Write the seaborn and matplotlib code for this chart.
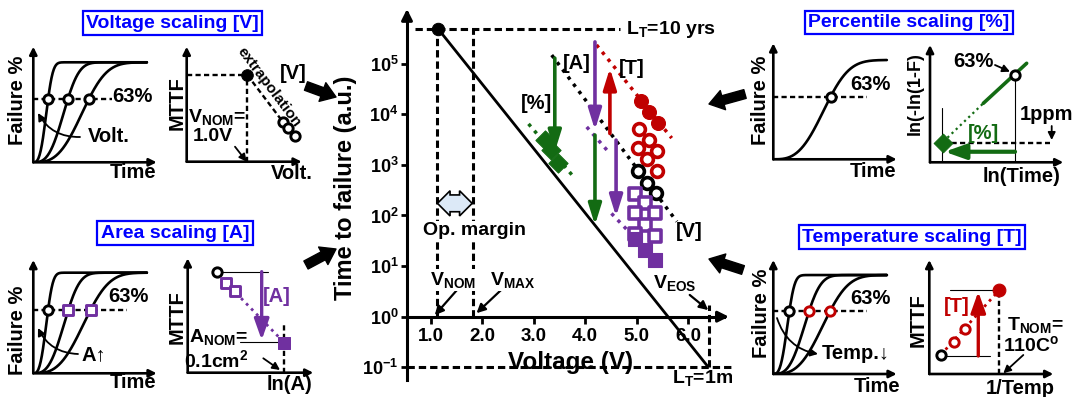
import numpy as np
import matplotlib.pyplot as plt
from matplotlib.ticker import NullLocator
from matplotlib.patches import FancyArrowPatch
import seaborn as sns

W, H = 1078, 397

# ---- main chart: voltage (V) vs time to failure, stored as log10(a.u.)
v_life = [1.15, 6.37]
t_life = [5.68, -0.97]
v_black = [5.03, 5.21, 5.37]
t_black = [2.87, 2.65, 2.44]
v_red_fill = [5.08, 5.24, 5.42]
t_red_fill = [4.27, 4.05, 3.83]
v_red_open = [5.05, 5.24, 5.03, 5.39, 5.21, 5.40]
t_red_open = [3.70, 3.49, 3.33, 3.28, 3.11, 2.87]
v_purple_open = [4.97, 5.16, 4.97, 5.36, 5.16, 4.97, 5.36]
t_purple_open = [2.42, 2.24, 2.04, 2.04, 1.81, 1.63, 1.59]
v_purple_fill = [4.97, 5.16, 5.36]
t_purple_fill = [1.53, 1.32, 1.12]
v_green = [3.22, 3.33, 3.48]
t_green = [3.49, 3.29, 3.04]

fit_green = ([2.90, 3.77], [3.81, 2.77])
fit_black = ([3.35, 5.78], [5.17, 1.88])
fit_red = ([4.22, 5.68], [5.37, 3.53])
fit_purple = [([4.03, 4.45], [3.75, 3.26]), ([4.51, 4.97], [2.04, 1.55])]

# arrows: (voltage, log10 start, log10 end)
arrows_green = [(3.41, 5.11, 3.26), (4.19, 3.59, 1.81)]
arrows_purple = [(4.19, 5.43, 3.69), (4.60, 3.49, 1.98)]
arrows_red = [(4.48, 3.62, 4.91)]

v_nom, v_max, v_eos = 1.12, 1.82, 6.40
lt_10yrs, lt_1ms = 5.68, -1.0
y_ticks = [-1, 0, 1, 2, 3, 4, 5]
x_ticks = [1, 2, 3, 4, 5, 6]

# ---- side panels (schematic, axes normalised 0..1)
eta_volt = [0.12, 0.28, 0.45]      # Weibull scale of the three CDFs
eta_area = [0.12, 0.284, 0.465]
eta_temp = [0.13, 0.289, 0.459]
eta_pct = [0.465]
beta = 3.0

mttf_volt_dot = (0.527, 0.754)
mttf_volt_x = [0.835, 0.883, 0.942]
mttf_volt_y = [0.348, 0.290, 0.223]

area_circle = (0.236, 0.883)
area_sq_x = [0.305, 0.377]
area_sq_y = [0.787, 0.717]
area_nom = (0.769, 0.262)

pct_solid = ([0.40, 0.725], [0.503, 0.844])
pct_dotted = ([0.10, 0.40], [0.176, 0.503])
pct_circle = (0.638, 0.744)
pct_diamond = (0.10, 0.167)

temp_circle = (0.092, 0.167)
temp_open_x = [0.199, 0.288]
temp_open_y = [0.283, 0.392]
temp_nom = (0.565, 0.737)

GREEN = '#136b13'
RED = '#c00000'
PURPLE = '#7030a0'
BLUE = '#0000ff'

sns.set_style('white')
plt.rcParams.update({
    'font.family': ['Liberation Sans', 'DejaVu Sans'],
    'font.weight': 'bold',
    'axes.labelweight': 'bold',
    'text.color': 'black',
    'axes.labelcolor': 'black',
    'xtick.color': 'black',
    'ytick.color': 'black',
    'axes.edgecolor': 'black',
    'mathtext.fontset': 'custom',
    'mathtext.rm': 'Liberation Sans:bold',
    'mathtext.it': 'Liberation Sans:bold:italic',
    'mathtext.bf': 'Liberation Sans:bold',
})


def px_box(left, top, right, bottom):
    return [left / W, 1 - bottom / H, (right - left) / W, (bottom - top) / H]


fig = plt.figure(figsize=(W / 100, H / 100), dpi=100)

# ================= main chart =================
ax = fig.add_axes(px_box(407, 8, 732, 392))
ax.patch.set_alpha(0)
ax.set_yscale('log')
ax.set_xlim(0.540, 6.851)
ax.set_ylim(10 ** -1.488, 10 ** 6.10)
for s in ['top', 'right']:
    ax.spines[s].set_visible(False)
ax.spines['bottom'].set_position(('data', 1))
ax.spines['left'].set_bounds(10 ** -1.25, 10 ** 6.0)
ax.spines['bottom'].set_bounds(0.54, 6.7)
for s in ['left', 'bottom']:
    ax.spines[s].set_linewidth(2.2)
ax.annotate('', xy=(0.54, 10 ** 6.08), xytext=(0.54, 10 ** 5.9),
            arrowprops=dict(arrowstyle='-|>', color='k', lw=2.2, mutation_scale=16,
                            shrinkA=0, shrinkB=0), annotation_clip=False)
ax.annotate('', xy=(6.79, 1), xytext=(6.6, 1),
            arrowprops=dict(arrowstyle='-|>', color='k', lw=2.2, mutation_scale=16,
                            shrinkA=0, shrinkB=0), annotation_clip=False)

ax.set_yticks([10.0 ** k for k in y_ticks])
ax.set_yticklabels([r'$10^{%d}$' % k for k in y_ticks])
ax.yaxis.set_minor_locator(NullLocator())
ax.set_xticks(x_ticks)
ax.set_xticklabels(['%.1f' % v for v in x_ticks])
ax.tick_params(axis='y', left=True, length=4, width=2, labelsize=13, pad=2)
ax.tick_params(axis='x', bottom=True, length=5, width=2, labelsize=13.5, pad=3)
ax.set_ylabel('Time to failure (a.u.)', fontsize=17)
ax.yaxis.set_label_coords(-0.154, 0.532)
ax.set_xlabel('Voltage (V)', fontsize=17.5)
ax.xaxis.set_label_coords(0.502, 0.0775)
ax.xaxis.label.set_va('center')

dash = (0, (2.4, 1.3))
ax.plot([0.69, 4.68], [10 ** lt_10yrs] * 2, color='k', lw=2.2, ls=dash)
ax.plot([0.54, 6.85], [10 ** lt_1ms] * 2, color='k', lw=2.2, ls=dash)
ax.plot([v_nom, v_nom], [1, 10 ** lt_10yrs], color='k', lw=2.2, ls=dash)
ax.plot([v_max, v_max], [1, 10 ** lt_10yrs], color='k', lw=2.2, ls=dash)
ax.plot([v_eos, v_eos], [10 ** lt_1ms, 10 ** 0.23], color='k', lw=2.2, ls=dash)

sns.lineplot(x=v_life, y=10 ** np.array(t_life), color='k', lw=2, ax=ax,
             estimator=None, sort=False)
sns.scatterplot(x=[v_life[0]], y=[10 ** t_life[0]], color='k', s=80, ax=ax, zorder=5,
                edgecolor='k')

dot = (0, (1, 1.6))
ax.plot(fit_green[0], 10 ** np.array(fit_green[1]), color=GREEN, lw=2.5, ls=dot)
ax.plot(fit_black[0], 10 ** np.array(fit_black[1]), color='k', lw=2.5, ls=dot)
ax.plot(fit_red[0], 10 ** np.array(fit_red[1]), color=RED, lw=2.5, ls=dot)
for fx, fy in fit_purple:
    ax.plot(fx, 10 ** np.array(fy), color=PURPLE, lw=2.5, ls=dot)

sns.scatterplot(x=v_green, y=10 ** np.array(t_green), marker='D', s=95, color=GREEN,
                edgecolor=GREEN, ax=ax, zorder=5)
sns.scatterplot(x=v_red_fill, y=10 ** np.array(t_red_fill), marker='o', s=100, color=RED,
                edgecolor=RED, ax=ax, zorder=5)
sns.scatterplot(x=v_red_open, y=10 ** np.array(t_red_open), marker='o', s=72, color='white',
                edgecolor=RED, linewidth=2.6, ax=ax, zorder=5)
sns.scatterplot(x=v_black, y=10 ** np.array(t_black), marker='o', s=72, color='white',
                edgecolor='k', linewidth=2.6, ax=ax, zorder=5)
sns.scatterplot(x=v_purple_open, y=10 ** np.array(t_purple_open), marker='s', s=66,
                color='white', edgecolor=PURPLE, linewidth=2.6, ax=ax, zorder=5)
sns.scatterplot(x=v_purple_fill, y=10 ** np.array(t_purple_fill), marker='s', s=95,
                color=PURPLE, edgecolor=PURPLE, ax=ax, zorder=5)

for arrs, col in [(arrows_green, GREEN), (arrows_purple, PURPLE), (arrows_red, RED)]:
    for x, a, b in arrs:
        ax.annotate('', xy=(x, 10 ** b), xytext=(x, 10 ** a),
                    arrowprops=dict(arrowstyle='-|>,head_length=0.9,head_width=0.28',
                                    color=col, lw=2.6, mutation_scale=14,
                                    shrinkA=0, shrinkB=0))

ax.text(3.06, 10 ** 4.22, '[%]', fontsize=14.5, ha='center', va='center')
ax.text(3.83, 10 ** 5.01, '[A]', fontsize=14.5, ha='center', va='center')
ax.text(4.90, 10 ** 4.91, '[T]', fontsize=14.5, ha='center', va='center')
ax.text(6.03, 10 ** 1.68, '[V]', fontsize=14.5, ha='center', va='center')
ax.text(4.80, 10 ** lt_10yrs, r'$\mathrm{L_T}$=10 yrs', fontsize=14, ha='left', va='center')
ax.text(5.68, 10 ** -1.22, r'$\mathrm{L_T}$=1ms', fontsize=14, ha='left', va='center',
        clip_on=True)
white = dict(boxstyle='square,pad=0.05', fc='white', ec='none')
ax.text(1.44, 10 ** 0.73, r'$\mathrm{V_{NOM}}$', fontsize=14, ha='center', va='center',
        bbox=white, zorder=4)
ax.text(2.60, 10 ** 0.73, r'$\mathrm{V_{MAX}}$', fontsize=14, ha='center', va='center',
        bbox=white, zorder=4)
ax.text(5.74, 10 ** 0.66, r'$\mathrm{V_{EOS}}$', fontsize=14, ha='center', va='center')
for (x0, y0), (x1, y1) in [((1.53, 0.55), (1.08, 0.03)), ((2.38, 0.54), (1.89, 0.07)),
                           ((6.03, 0.43), (6.39, 0.13))]:
    ax.annotate('', xy=(x1, 10 ** y1), xytext=(x0, 10 ** y0),
                arrowprops=dict(arrowstyle='-|>', color='k', lw=1.6, mutation_scale=13,
                                shrinkA=0, shrinkB=0))
# operating margin: hollow double arrow between V_NOM and V_MAX
ax.text((v_nom + v_max) / 2, 10 ** 2.24, 'xxx', fontsize=7, color='#dce9f7',
        ha='center', va='center', zorder=4,
        bbox=dict(boxstyle='darrow,pad=0.35', fc='#dce9f7', ec='k', lw=1.2))
ax.text(1.86, 10 ** 1.71, 'Op. margin', fontsize=14, ha='center', va='center',
        bbox=white, zorder=4)


# ================= side panels =================
def panel(ox, oy, tx, ty, ytop=1.0):
    a = fig.add_axes(px_box(ox, ty, tx, oy))
    a.patch.set_alpha(0)
    a.set_xlim(0, 1)
    a.set_ylim(0, ytop)
    a.axis('off')
    for end in [(1, 0), (0, ytop)]:
        a.annotate('', xy=end, xytext=(0, 0),
                   arrowprops=dict(arrowstyle='-|>', color='k', lw=1.9, mutation_scale=11,
                                   shrinkA=0, shrinkB=0), annotation_clip=False)
    return a


def cdf_panel(a, etas, colors, markers, xmax=0.92, dash_end=0.757):
    for eta in etas:
        t = np.linspace(0, xmax, 200)
        sns.lineplot(x=t, y=1 - np.exp(-(t / eta) ** beta), color='k', lw=1.9, ax=a,
                     estimator=None, sort=False)
    a.plot([0, dash_end], [0.632, 0.632], color='k', lw=1.7, ls=(0, (2.2, 1.4)))
    for eta, c, m in zip(etas, colors, markers):
        sns.scatterplot(x=[eta], y=[0.632], marker=m, s=45, color='white', edgecolor=c,
                        linewidth=2.1, ax=a, zorder=5, clip_on=False)


# voltage scaling
p = panel(33.3, 162.3, 156.7, 46.7, ytop=1.156)
cdf_panel(p, eta_volt, ['k'] * 3, ['o'] * 3, dash_end=0.635)
p = panel(186.7, 161.7, 301.7, 46.7)
p.plot([0, mttf_volt_dot[0]], [mttf_volt_dot[1]] * 2, color='k', lw=1.7, ls=(0, (2.2, 1.4)))
p.plot([mttf_volt_dot[0]] * 2, [0, mttf_volt_dot[1]], color='k', lw=1.7, ls=(0, (2.2, 1.4)))
p.plot([mttf_volt_dot[0], mttf_volt_x[0]], [mttf_volt_dot[1], mttf_volt_y[0]], color='k',
       lw=1.7, ls=(0, (2.2, 1.4)))
sns.scatterplot(x=[mttf_volt_dot[0]], y=[mttf_volt_dot[1]], color='k', s=70, ax=p, zorder=5,
                edgecolor='k')
sns.scatterplot(x=mttf_volt_x, y=mttf_volt_y, marker='o', s=45, color='white', edgecolor='k',
                linewidth=2.1, ax=p, zorder=5, clip_on=False)

# area scaling
p = panel(33.3, 373.3, 156.7, 260, ytop=1.126)
cdf_panel(p, eta_area, ['k', PURPLE, PURPLE], ['o', 's', 's'])
p = panel(187.7, 372.7, 313.3, 258.3)
p.plot([area_circle[0], 0.642], [area_circle[1]] * 2, color='k', lw=0.8)
p.plot([0.416, area_nom[0]], [0.271, 0.271], color='k', lw=0.8)
p.plot([area_sq_x[0], area_nom[0]], [area_sq_y[0], area_nom[1]], color=PURPLE, lw=2,
       ls=(0, (1, 1.6)))
p.plot([area_nom[0]] * 2, [0, 0.434], color='k', lw=1.7, ls=(0, (2.2, 1.4)))
p.annotate('', xy=(0.589, 0.286), xytext=(0.589, area_circle[1]),
           arrowprops=dict(arrowstyle='-|>,head_length=0.9,head_width=0.32', color=PURPLE,
                           lw=2.4, mutation_scale=14, shrinkA=0, shrinkB=0))
sns.scatterplot(x=[area_circle[0]], y=[area_circle[1]], marker='o', s=45, color='white',
                edgecolor='k', linewidth=2.1, ax=p, zorder=5)
sns.scatterplot(x=area_sq_x, y=area_sq_y, marker='s', s=45, color='white', edgecolor=PURPLE,
                linewidth=2.1, ax=p, zorder=5)
sns.scatterplot(x=[area_nom[0]], y=[area_nom[1]], marker='s', s=80, color=PURPLE,
                edgecolor=PURPLE, ax=p, zorder=5)

# percentile scaling
p = panel(773.3, 159.3, 896.7, 43.3, ytop=1.168)
cdf_panel(p, eta_pct, ['k'], ['o'])
p = panel(930, 162.3, 1063.3, 45)
p.plot([0.092, 0.092], [0, 0.46], color='k', lw=0.8)
p.plot([pct_circle[0]] * 2, [0, pct_circle[1]], color='k', lw=0.8)
p.plot([pct_diamond[0], 0.9], [pct_diamond[1]] * 2, color='k', lw=1.7, ls=(0, (2.2, 1.4)))
p.plot(pct_dotted[0], pct_dotted[1], color=GREEN, lw=1.6, ls=(0, (1, 1.6)))
p.plot(pct_solid[0], pct_solid[1], color=GREEN, lw=2.6)
p.annotate('', xy=(0.11, 0.09), xytext=(pct_circle[0], 0.09),
           arrowprops=dict(arrowstyle='-|>,head_length=0.9,head_width=0.32', color=GREEN,
                           lw=3, mutation_scale=14, shrinkA=0, shrinkB=0))
sns.scatterplot(x=[pct_circle[0]], y=[pct_circle[1]], marker='o', s=45, color='white',
                edgecolor='k', linewidth=2.1, ax=p, zorder=5)
sns.scatterplot(x=[pct_diamond[0]], y=[pct_diamond[1]], marker='D', s=90, color=GREEN,
                edgecolor=GREEN, ax=p, zorder=5)

# temperature scaling
p = panel(773.3, 374, 896.7, 260, ytop=1.152)
cdf_panel(p, eta_temp, ['k', RED, RED], ['o', 'o', 'o'])
p = panel(929.3, 374, 1053.3, 260)
p.plot([0.166, temp_nom[0]], [temp_nom[1]] * 2, color='k', lw=0.8)
p.plot([0.113, 0.49], [0.158, 0.158], color='k', lw=0.8)
p.plot([temp_circle[0], temp_nom[0]], [temp_circle[1], temp_nom[1]], color=RED, lw=2,
       ls=(0, (1, 1.6)))
p.plot([temp_nom[0]] * 2, [0, temp_nom[1]], color='k', lw=1.7, ls=(0, (2.2, 1.4)))
p.annotate('', xy=(0.395, 0.722), xytext=(0.395, 0.158),
           arrowprops=dict(arrowstyle='-|>,head_length=0.9,head_width=0.32', color=RED,
                           lw=2.4, mutation_scale=14, shrinkA=0, shrinkB=0))
sns.scatterplot(x=[temp_circle[0]], y=[temp_circle[1]], marker='o', s=45, color='white',
                edgecolor='k', linewidth=2.1, ax=p, zorder=5)
sns.scatterplot(x=temp_open_x, y=temp_open_y, marker='o', s=45, color='white', edgecolor=RED,
                linewidth=2.1, ax=p, zorder=5)
sns.scatterplot(x=[temp_nom[0]], y=[temp_nom[1]], marker='o', s=85, color=RED, edgecolor=RED,
                ax=p, zorder=5)

# ================= overlay: titles, labels, block arrows =================
ov = fig.add_axes([0, 0, 1, 1], zorder=10)
ov.set_xlim(0, W)
ov.set_ylim(H, 0)
ov.axis('off')
ov.patch.set_alpha(0)


def txt(x, y, s, size=14, **kw):
    kw.setdefault('ha', 'center')
    kw.setdefault('va', 'center')
    ov.text(x, y, s, fontsize=size, **kw)


def arr(x0, y0, x1, y1, rad=0.0, lw=1.3):
    ov.annotate('', xy=(x1, y1), xytext=(x0, y0),
                arrowprops=dict(arrowstyle='-|>', color='k', lw=lw, mutation_scale=11,
                                shrinkA=0, shrinkB=0, connectionstyle='arc3,rad=%s' % rad))


box = dict(boxstyle='square,pad=0.17', fc='white', ec=BLUE, lw=1.6)
txt(172.5, 23.3, 'Voltage scaling [V]', color=BLUE, bbox=box)
txt(175, 233.3, 'Area scaling [A]', color=BLUE, bbox=box)
txt(908.7, 22.5, 'Percentile scaling [%]', color=BLUE, bbox=box)
txt(912, 237.3, 'Temperature scaling [T]', color=BLUE, bbox=box)

for lab_x, lab_y in [(18, 100), (18, 330), (760, 100), (761.7, 313.3)]:
    txt(lab_x, lab_y, 'Failure %', size=14.5, rotation=90)
for lab_x, lab_y in [(133, 173), (133, 383), (873.3, 171.7), (876.7, 386.7)]:
    txt(lab_x, lab_y, 'Time', size=14.5)
for lab_x, lab_y in [(176.7, 103.3), (176.7, 316.7), (918.3, 320)]:
    txt(lab_x, lab_y, 'MTTF', size=14.5, rotation=90)

# voltage panel text
txt(112.7, 97, '63%', size=14.5, ha='left')
txt(88, 137, 'Volt.', size=14.5, ha='left')
arr(80, 137, 38, 113, rad=-0.3)
txt(269, 87, 'extrapolation', size=11, rotation=-53, rotation_mode='anchor')
txt(216.7, 116.7, r'$\mathrm{V_{NOM}}$=')
txt(213.3, 136.7, '1.0V')
arr(235, 146.7, 246.7, 161.7)
txt(291.7, 173.3, 'Volt.', size=14.5)
txt(293.3, 73.3, '[V]', size=14.5)

# area panel text
txt(128.3, 296.7, '63%', size=14.5)
txt(81.7, 355, 'A\u2191', size=14.5, ha='left')
arr(78, 354, 38, 328, rad=-0.3)
txt(276.7, 296.7, '[A]', size=14.5, color=PURPLE)
txt(218.3, 336.7, r'$\mathrm{A_{NOM}}$=')
txt(216.7, 360, r'0.1cm$^\mathrm{2}$')
arr(263.3, 358.3, 280, 370)
txt(290, 385, 'ln(A)', size=14.5)

# percentile panel text
txt(870, 85, '63%', size=14.5)
txt(983.3, 133.3, '[%]', size=14.5, color=GREEN)
txt(1046.7, 115, '1ppm', size=14.5)
arr(1051.7, 126, 1051.7, 140)
txt(973.3, 61.7, '63%', size=14.5)
arr(995, 65, 1010, 71.7)
txt(915, 93.3, 'ln(-ln(1-F)', size=13, rotation=90)
txt(1021.7, 176.7, 'ln(Time)', size=14.5)

# temperature panel text
txt(870, 298.3, '63%', size=14.5)
txt(821.7, 353.3, 'Temp.\u2193', size=14.5, ha='left')
arr(777, 318, 818, 354, rad=0.3)
txt(956.7, 306.7, '[T]', size=14.5, color=RED)
txt(1035, 325, r'$\mathrm{T_{NOM}}$=')
txt(1031.7, 345, r'110C$^\mathrm{o}$')
arr(1023.3, 355, 1003.3, 373.3)
txt(1020, 388.3, '1/Temp', size=14.5)

# block arrows toward the main chart
for (x0, y0), (x1, y1) in [((306, 86), (336, 97)), ((306, 265), (336, 249)),
                           ((745, 94), (709, 104)), ((743, 270), (709, 259))]:
    ov.add_patch(FancyArrowPatch((x0, y0), (x1, y1),
                                 arrowstyle='simple,head_length=0.8,head_width=1.1,tail_width=0.5',
                                 mutation_scale=13, color='k', shrinkA=0, shrinkB=0))

fig.savefig('out.png', dpi=100)
